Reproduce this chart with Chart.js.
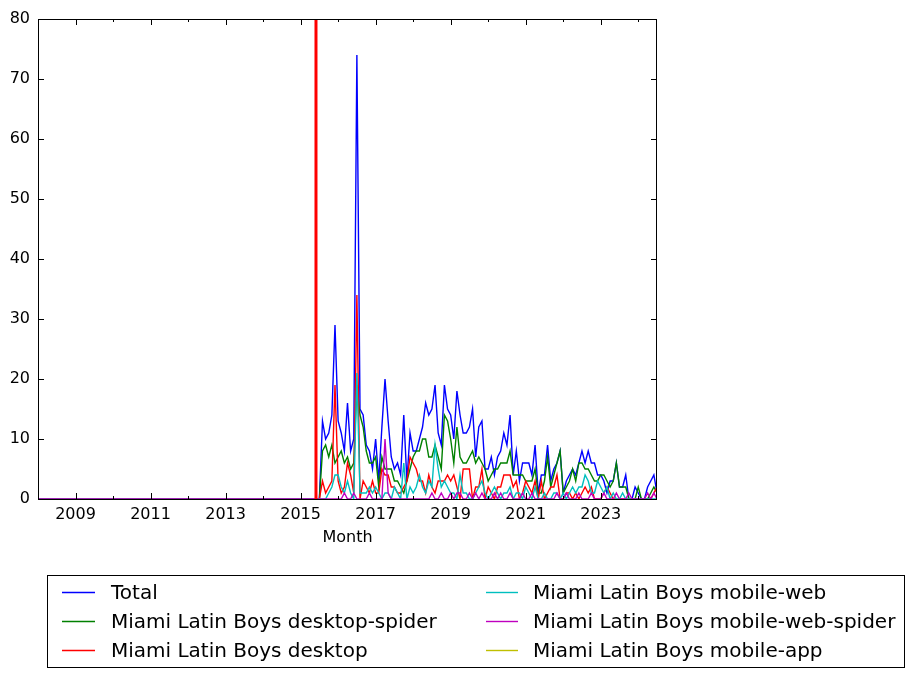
<!DOCTYPE html>
<html>
<head>
<meta charset="utf-8">
<script src="https://cdn.jsdelivr.net/npm/chart.js@4.4.0/dist/chart.umd.min.js"></script>
<style>
  html, body { margin: 0; padding: 0; background: #fff; }
  canvas { display: block; }
</style>
</head>
<body>
<canvas id="chart" width="914" height="679"></canvas>
<script>
// month-end dates as decimal years: end of Dec 2007 .. end of Jun 2024
const firstYear = 2008;
const monthCount = 199;
const months = [];
for (let i = 0; i < monthCount; i++) months.push(firstYear + i / 12);

// the series are flat at 0 until Jun 2015, values below start Jul 2015
const zeroMonths = 91;

const total = [
  13, 10, 11, 14, 29, 13, 11, 8, 16, 8, 10, 74,
  15, 14, 9, 8, 5, 10, 3, 12, 20, 13, 7, 5,
  6, 4, 14, 3, 11, 8, 8, 10, 12, 16, 14, 15,
  19, 11, 9, 19, 15, 14, 10, 18, 14, 11, 11, 12,
  15, 7, 12, 13, 5, 5, 7, 4, 7, 8, 11, 9,
  14, 4, 8, 3, 6, 6, 6, 4, 9, 1, 4, 4,
  9, 3, 5, 6, 8, 1, 3, 4, 5, 4, 6, 8,
  6, 8, 6, 6, 4, 4, 3, 1, 3, 3, 6, 2,
  2, 4, 0, 0, 2, 1, 0, 0, 2, 3, 4, 1
];
const desktopSpider = [
  8, 9, 7, 9, 6, 7, 8, 6, 7, 5, 6, 19,
  14, 12, 8, 6, 6, 7, 2, 7, 5, 5, 5, 3,
  3, 2, 1, 3, 5, 7, 8, 8, 10, 10, 7, 7,
  9, 7, 5, 14, 13, 10, 6, 12, 7, 6, 6, 7,
  8, 6, 7, 6, 5, 3, 4, 5, 5, 6, 6, 6,
  8, 4, 4, 4, 4, 3, 3, 3, 5, 1, 1, 3,
  7, 2, 4, 6, 8, 1, 2, 3, 5, 3, 6, 6,
  5, 5, 4, 3, 3, 4, 4, 3, 2, 3, 6, 2,
  2, 2, 0, 0, 0, 2, 0, 0, 0, 1, 2, 1
];
const desktop = [
  3, 1, 2, 3, 19, 3, 1, 2, 6, 4, 1, 34,
  0, 3, 2, 1, 3, 1, 1, 5, 4, 4, 2, 2,
  1, 1, 2, 3, 7, 6, 5, 3, 3, 1, 4, 2,
  1, 3, 3, 3, 4, 3, 4, 2, 0, 5, 5, 5,
  0, 2, 2, 5, 0, 2, 1, 0, 2, 2, 4, 4,
  4, 2, 3, 0, 1, 3, 2, 1, 3, 0, 3, 0,
  1, 2, 2, 4, 0, 0, 1, 1, 0, 1, 0, 1,
  2, 1, 2, 0, 0, 0, 1, 2, 1, 0, 0, 0,
  0, 0, 0, 0, 0, 0, 0, 0, 0, 0, 1, 2
];
const mobileWeb = [
  0, 0, 1, 2, 4, 4, 2, 1, 3, 1, 0, 21,
  1, 1, 1, 2, 1, 2, 1, 0, 1, 1, 0, 2,
  1, 0, 6, 0, 2, 1, 2, 4, 2, 1, 3, 2,
  9, 5, 2, 3, 2, 1, 1, 0, 4, 1, 1, 0,
  0, 1, 2, 3, 1, 0, 1, 2, 1, 0, 1, 1,
  2, 0, 1, 1, 0, 2, 1, 0, 2, 0, 0, 1,
  0, 0, 1, 1, 0, 1, 0, 1, 2, 1, 2, 2,
  4, 3, 1, 1, 3, 2, 1, 2, 0, 1, 0, 0,
  1, 0, 0, 0, 0, 0, 0, 0, 0, 0, 0, 0
];
const mobileWebSpider = [
  0, 0, 0, 0, 0, 0, 0, 1, 0, 0, 1, 0,
  0, 0, 0, 1, 0, 0, 0, 0, 10, 1, 0, 0,
  0, 0, 0, 0, 0, 0, 0, 0, 0, 0, 0, 1,
  0, 0, 1, 0, 0, 1, 0, 1, 1, 0, 0, 1,
  0, 1, 0, 1, 0, 0, 0, 1, 0, 1, 0, 0,
  1, 0, 0, 0, 1, 0, 0, 1, 0, 0, 0, 0,
  0, 0, 0, 1, 0, 0, 1, 0, 0, 0, 1, 0,
  0, 0, 1, 0, 0, 0, 1, 0, 0, 0, 1, 0,
  0, 0, 1, 0, 0, 0, 0, 0, 1, 0, 1, 0
];
const mobileApp = []; // nothing plotted for this one

const labels = [
  'Total',
  'Miami Latin Boys desktop-spider',
  'Miami Latin Boys desktop',
  'Miami Latin Boys mobile-web',
  'Miami Latin Boys mobile-web-spider',
  'Miami Latin Boys mobile-app'
];
const colors = ['#0000ff', '#008000', '#ff0000', '#00bfbf', '#bf00bf', '#bfbf00'];
const series = [total, desktopSpider, desktop, mobileWeb, mobileWebSpider, mobileApp];

const createdAt = 2015.41;  // red vertical marker
const yTicks = [0, 10, 20, 30, 40, 50, 60, 70, 80];
const xTicks = [2009, 2011, 2013, 2015, 2017, 2019, 2021, 2023];
const xMinor = [2010, 2012, 2014, 2016, 2018, 2020, 2022, 2024];

const FONT = 'DejaVu Sans';

function toPoints(vals) {
  if (!vals.length) return [];
  const full = new Array(zeroMonths).fill(0).concat(vals);
  return full.map((v, i) => ({ x: months[i], y: v }));
}

const datasets = series.map((vals, i) => ({
  label: labels[i],
  data: toPoints(vals),
  borderColor: colors[i],
  backgroundColor: colors[i],
  borderWidth: 1.4,
  pointRadius: 0,
  fill: false,
  tension: 0,
  order: series.length - i
}));

const framePlugin = {
  id: 'frame',
  afterDatasetsDraw(chart) {
    const { ctx, chartArea: a, scales: { x } } = chart;
    const cx = x.getPixelForValue(createdAt);
    ctx.save();
    ctx.strokeStyle = '#ff0000';
    ctx.lineWidth = 3;
    ctx.beginPath();
    ctx.moveTo(cx, a.top);
    ctx.lineTo(cx, a.bottom);
    ctx.stroke();
    ctx.restore();
  },
  afterDraw(chart) {
    const { ctx, chartArea: a, scales: { x, y } } = chart;
    ctx.save();
    ctx.strokeStyle = '#000';
    ctx.lineWidth = 1;
    ctx.strokeRect(a.left + 0.5, a.top + 0.5, a.right - a.left - 1, a.bottom - a.top);

    ctx.beginPath();
    yTicks.forEach(v => {
      const py = Math.round(y.getPixelForValue(v)) + 0.5;
      ctx.moveTo(a.left, py); ctx.lineTo(a.left + 6, py);
      ctx.moveTo(a.right, py); ctx.lineTo(a.right - 6, py);
    });
    xTicks.forEach(v => {
      const px = Math.round(x.getPixelForValue(v)) + 0.5;
      ctx.moveTo(px, a.bottom); ctx.lineTo(px, a.bottom - 6);
      ctx.moveTo(px, a.top); ctx.lineTo(px, a.top + 6);
    });
    xMinor.forEach(v => {
      const px = Math.round(x.getPixelForValue(v)) + 0.5;
      ctx.moveTo(px, a.bottom); ctx.lineTo(px, a.bottom - 3);
      ctx.moveTo(px, a.top); ctx.lineTo(px, a.top + 3);
    });
    ctx.stroke();

    // legend below the plot, two columns
    const box = { x: 47.5, y: 575.5, w: 857, h: 92 };
    ctx.fillStyle = '#fff';
    ctx.fillRect(box.x, box.y, box.w, box.h);
    ctx.strokeRect(box.x, box.y, box.w, box.h);
    const cols = [{ l0: 62, l1: 95, t: 111 }, { l0: 486, l1: 518, t: 533 }];
    const rows = [592, 621, 650];
    ctx.font = '20px "' + FONT + '"';
    ctx.textBaseline = 'middle';
    ctx.textAlign = 'left';
    chart.data.datasets.forEach((ds, i) => {
      const c = cols[Math.floor(i / 3)];
      const ry = rows[i % 3];
      ctx.strokeStyle = ds.borderColor;
      ctx.lineWidth = 1.4;
      ctx.beginPath();
      ctx.moveTo(c.l0, ry + 0.5);
      ctx.lineTo(c.l1, ry + 0.5);
      ctx.stroke();
      ctx.fillStyle = '#000';
      ctx.fillText(ds.label, c.t, ry + 2);
    });
    ctx.restore();
  }
};

new Chart(document.getElementById('chart'), {
  type: 'line',
  data: { datasets },
  plugins: [framePlugin],
  options: {
    responsive: false,
    animation: false,
    parsing: false,
    layout: { padding: { left: 0, right: 257, top: 19, bottom: 132 } },
    plugins: { legend: { display: false }, tooltip: { enabled: false } },
    scales: {
      x: {
        type: 'linear',
        min: months[0],
        max: months[months.length - 1],
        afterBuildTicks: s => { s.ticks = xTicks.map(v => ({ value: v })); },
        afterFit: s => { s.height = 48; },
        grid: { display: false, drawTicks: false },
        border: { display: false },
        ticks: {
          color: '#000', font: { family: FONT, size: 16 }, padding: 6,
          maxRotation: 0, autoSkip: false, callback: v => String(v)
        },
        title: { display: true, text: 'Month', color: '#000', font: { family: FONT, size: 16 }, padding: 0 }
      },
      y: {
        min: 0,
        max: 80,
        afterBuildTicks: s => { s.ticks = yTicks.map(v => ({ value: v })); },
        afterFit: s => { s.width = 38; },
        grid: { display: false, drawTicks: false },
        border: { display: false },
        ticks: { color: '#000', font: { family: FONT, size: 16 }, padding: 8 }
      }
    }
  }
});
</script>
</body>
</html>
